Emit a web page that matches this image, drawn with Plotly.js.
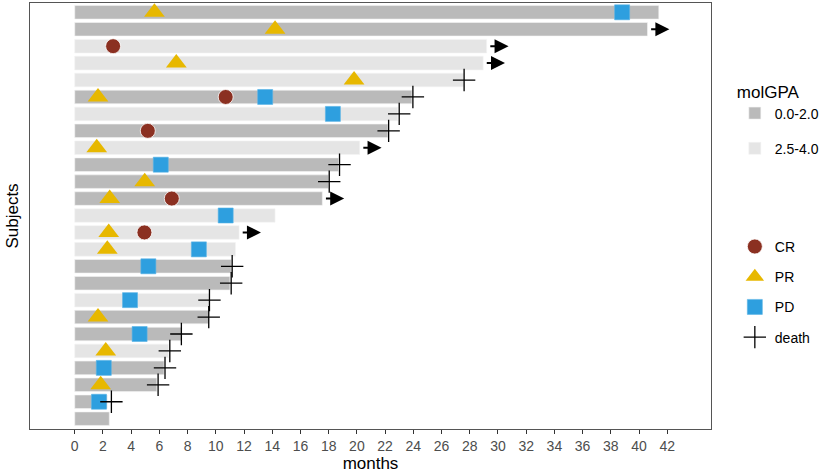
<!DOCTYPE html>
<html>
<head>
<meta charset="utf-8">
<script src="https://cdn.plot.ly/plotly-3.0.1.min.js"></script>
<style>
  html, body { margin: 0; padding: 0; background: #fff; }
  #chart { width: 829px; height: 473px; }
</style>
</head>
<body>
<div id="chart"></div>
<script>
// one row per subject, listed top to bottom
var endMonths = [41.4, 40.6, 29.2, 28.95, 27.6, 23.9, 22.9, 22.2, 20.2, 18.7,
                 18.0, 17.55, 14.2, 11.65, 11.4, 11.1, 11.0, 9.55, 9.48, 7.56,
                 6.64, 6.33, 5.82, 2.3, 2.45];
var molGPA = ['0.0-2.0', '0.0-2.0', '2.5-4.0', '2.5-4.0', '2.5-4.0', '0.0-2.0', '2.5-4.0', '0.0-2.0', '2.5-4.0', '0.0-2.0',
              '0.0-2.0', '0.0-2.0', '2.5-4.0', '2.5-4.0', '2.5-4.0', '0.0-2.0', '0.0-2.0', '2.5-4.0', '0.0-2.0', '0.0-2.0',
              '2.5-4.0', '0.0-2.0', '0.0-2.0', '0.0-2.0', '0.0-2.0'];

// events: subject row (1 = top) and month
var crRow = [3, 6, 8, 12, 14];
var crMonth = [2.72, 10.7, 5.18, 6.88, 4.94];

var prRow = [1, 2, 4, 5, 6, 9, 11, 12, 14, 15, 19, 21, 23];
var prMonth = [5.65, 14.2, 7.2, 19.8, 1.65, 1.56, 4.96, 2.48, 2.41, 2.31, 1.65, 2.2, 1.84];

var pdRow = [1, 6, 7, 10, 13, 15, 16, 18, 20, 22, 24];
var pdMonth = [38.8, 13.5, 18.3, 6.1, 10.7, 8.8, 5.22, 3.92, 4.6, 2.06, 1.72];

var deathRow = [5, 6, 7, 8, 10, 11, 16, 17, 18, 19, 20, 21, 22, 23, 24];
var deathMonth = [27.6, 23.97, 23.0, 22.25, 18.77, 18.04, 11.16, 11.09, 9.55, 9.5, 7.56, 6.74, 6.4, 5.91, 2.6];

// still ongoing (arrow after bar)
var ongoingRow = [2, 3, 4, 9, 12, 14];

var xTicks = [0, 2, 4, 6, 8, 10, 12, 14, 16, 18, 20, 22, 24, 26, 28, 30, 32, 34, 36, 38, 40, 42];

var nSub = endMonths.length;
function yPos(row) { return nSub + 1 - row; }

var groups = [
  {name: '0.0-2.0', color: '#bababa'},
  {name: '2.5-4.0', color: '#e5e5e5'}
];

var traces = [];
groups.forEach(function(g) {
  var xs = [], ys = [];
  for (var i = 0; i < nSub; i++) {
    if (molGPA[i] == g.name) {
      xs.push(endMonths[i]);
      ys.push(yPos(i + 1));
    }
  }
  traces.push({
    type: 'bar', orientation: 'h',
    x: xs, y: ys, width: 0.8, base: 0,
    name: g.name, legend: 'legend', legendgroup: g.name,
    marker: {color: g.color, line: {color: '#f4f4f4', width: 0.6}},
    hoverinfo: 'x'
  });
});

function events(rows, months, name, marker) {
  return {
    type: 'scatter', mode: 'markers',
    x: months, y: rows.map(yPos),
    name: name, legend: 'legend2', legendgroup: name,
    marker: marker, cliponaxis: false
  };
}

traces.push(events(crRow, crMonth, 'CR',
  {symbol: 'circle', size: 15, color: '#8b3021', line: {color: '#ffffff', width: 0.8}}));
traces.push(events(prRow, prMonth, 'PR',
  {symbol: 'triangle-up', size: 18, color: '#e7b800', line: {width: 0}}));
traces.push(events(pdRow, pdMonth, 'PD',
  {symbol: 'square', size: 15, color: '#2e9fdf', line: {color: '#5ab4e6', width: 0.6}}));
traces.push(events(deathRow, deathMonth, 'death',
  {symbol: 'cross-thin-open', size: 16, color: '#000', line: {color: '#000', width: 1.3}}));

// arrows for ongoing subjects
var arrows = ongoingRow.map(function(r) {
  var end = endMonths[r - 1];
  return {
    x: end + 1.55, y: yPos(r), ax: end + 0.15, ay: yPos(r),
    xref: 'x', yref: 'y', axref: 'x', ayref: 'y',
    text: '', showarrow: true,
    arrowhead: 2, arrowsize: 1.4, arrowwidth: 2, arrowcolor: '#000'
  };
});

var layout = {
  width: 829, height: 473,
  margin: {l: 30, r: 118, t: 3, b: 44},
  paper_bgcolor: '#fff', plot_bgcolor: '#fff',
  font: {family: 'Liberation Sans, Arial, sans-serif', size: 13, color: '#000'},
  barmode: 'overlay',
  showlegend: true,
  xaxis: {
    range: [-3.17, 45.1],
    tickvals: xTicks,
    ticks: 'outside', ticklen: 4, tickcolor: '#333', tickwidth: 1,
    tickfont: {size: 14, color: '#4d4d4d'},
    showgrid: false, zeroline: false,
    showline: true, linecolor: '#555', linewidth: 1, mirror: true,
    title: {text: 'months', font: {size: 17}, standoff: 6}
  },
  yaxis: {
    range: [0.39, 25.55],
    showticklabels: false, ticks: '',
    showgrid: false, zeroline: false,
    showline: true, linecolor: '#555', linewidth: 1, mirror: true,
    title: {text: 'Subjects', font: {size: 17}, standoff: 6}
  },
  legend: {
    x: 1.035, y: 0.83, xanchor: 'left', yanchor: 'top',
    title: {text: 'molGPA', font: {size: 17}},
    font: {size: 14}, tracegroupgap: 14
  },
  legend2: {
    x: 1.035, y: 0.465, xanchor: 'left', yanchor: 'top',
    font: {size: 14}, tracegroupgap: 9
  },
  annotations: arrows
};

Plotly.newPlot('chart', traces, layout, {displayModeBar: false, staticPlot: true});
</script>
</body>
</html>
